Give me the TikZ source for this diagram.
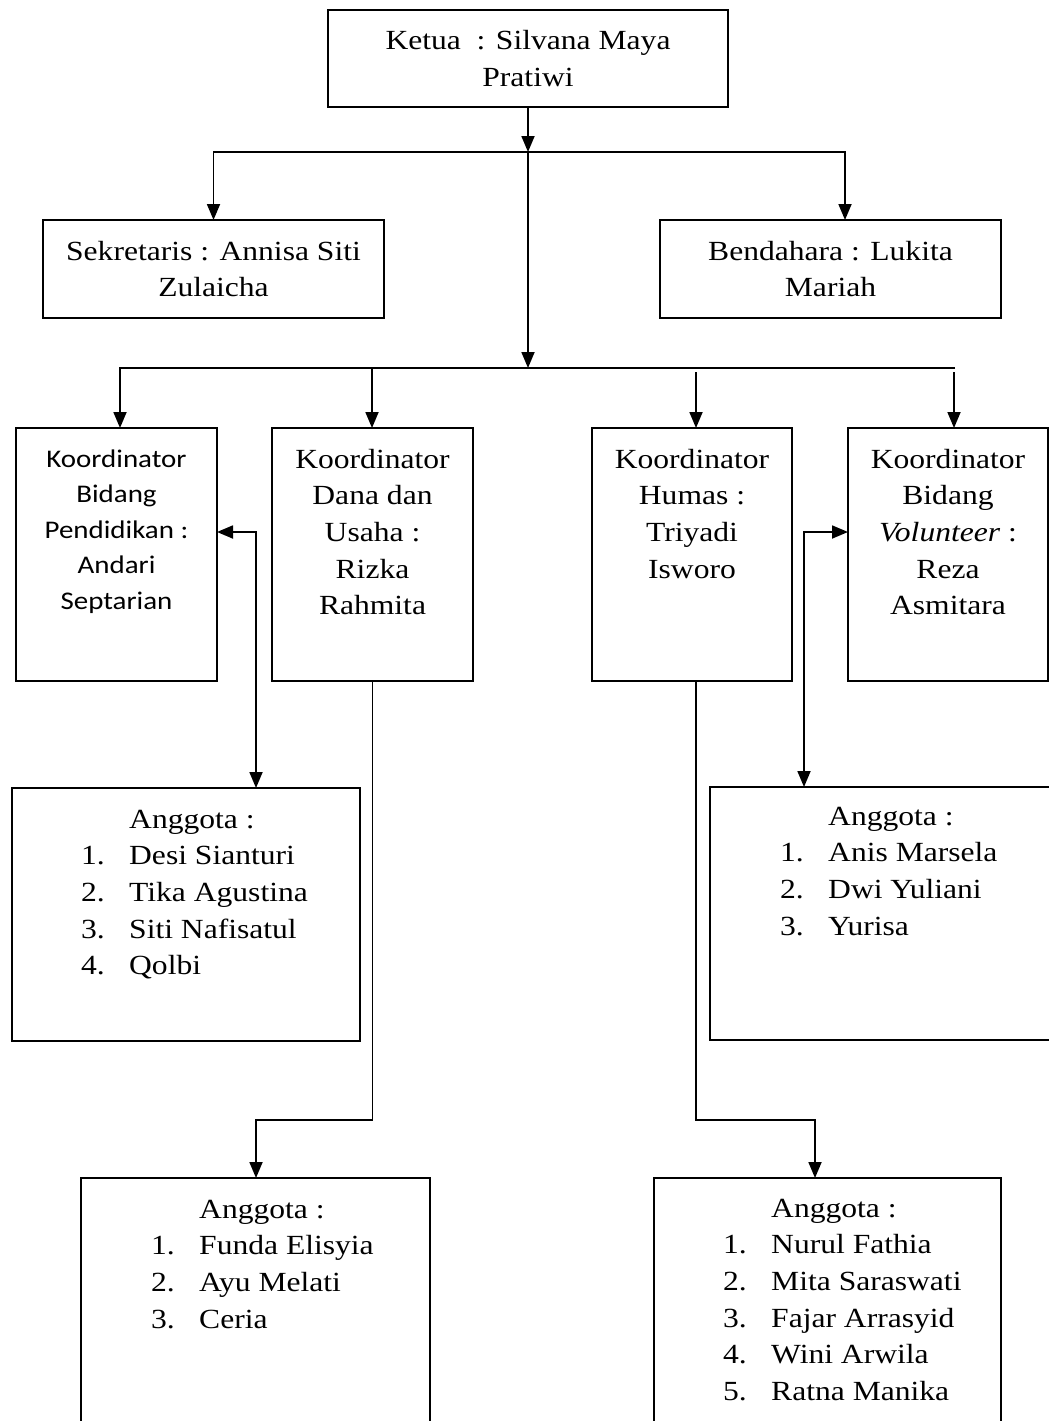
\documentclass[tikz,border=0pt]{standalone}
\usepackage{fontspec}
\setmainfont{Liberation Serif}[FakeStretch=1.14]
\newfontfamily\calibri{Carlito}[FakeStretch=1.14]
\usetikzlibrary{arrows.meta}
\usetikzlibrary{positioning}

\tikzset{
  kotak/.style 2 args={draw, line width=1.4pt, inner sep=0pt, outer sep=0pt,
    minimum width=#1, minimum height=#2},
  teks/.style={inner sep=0pt, font=\fontsize{27.7}{36.7}\selectfont},
  tekssans/.style={inner sep=0pt, font=\calibri\fontsize{25.4}{35.5}\selectfont},
  garis/.style={line width=1.8pt},
  panah/.style={garis, -{Triangle[length=16pt,width=13pt]}},
  duapanah/.style={garis, {Triangle[length=16pt,width=13pt]}-{Triangle[length=16pt,width=13pt]}},
}
\newcommand\baris[1]{\begin{tabular}[t]{@{}c@{}}#1\end{tabular}}
\newcommand\anggota[1]{\begin{tabular}[t]{@{}p{48pt}@{}l@{}} & Anggota :\\ #1\end{tabular}}

\begin{document}
\begin{tikzpicture}[x=1pt,y=-1pt]
  \fill[white] (0,0) rectangle (1049,1421);
  \useasboundingbox (0,0) rectangle (1049,1421);
  \clip (0,0) rectangle (1049,1421);

  % pengurus inti
  \node[kotak={400pt}{97pt}] (ketua) at (528,58.5) {};
  \node[kotak={341pt}{98pt}] (sek) at (213.5,269) {};
  \node[kotak={341pt}{98pt}] (ben) at (830.5,269) {};

  \node[teks, below=40pt of ketua.north, anchor=base] (tketua)
    {\baris{Ketua\ \ : Silvana Maya\\ Pratiwi}};
  \node[teks, below=40pt of sek.north, anchor=base] (tsek)
    {\baris{Sekretaris : Annisa Siti\\ Zulaicha}};
  \node[teks, below=40pt of ben.north, anchor=base] (tben)
    {\baris{Bendahara : Lukita\\ Mariah}};

  % koordinator
  \node[kotak={201pt}{253pt}] (pend) at (116.5,554.5) {};
  \node[kotak={201pt}{253pt}] (dana) at (372.5,554.5) {};
  \node[kotak={200pt}{253pt}] (humas) at (692,554.5) {};
  \node[kotak={200pt}{253pt}] (vol) at (948,554.5) {};

  \node[tekssans, below=39pt of pend.north, anchor=base] (tpend)
    {\baris{Koordinator\\ Bidang\\ Pendidikan :\\ Andari\\ Septarian}};
  \node[teks, below=40pt of dana.north, anchor=base] (tdana)
    {\baris{Koordinator\\ Dana dan\\ Usaha :\\ Rizka\\ Rahmita}};
  \node[teks, below=40pt of humas.north, anchor=base] (thumas)
    {\baris{Koordinator\\ Humas :\\ Triyadi\\ Isworo}};
  \node[teks, below=40pt of vol.north, anchor=base] (tvol)
    {\baris{Koordinator\\ Bidang\\ \textit{Volunteer} :\\ Reza\\ Asmitara}};

  % anggota
  \node[kotak={348pt}{253pt}] (agt1) at (186,914.5) {};
  \node[kotak={348pt}{253pt}] (agt2) at (884,913.5) {};
  \node[kotak={349pt}{253pt}] (agt3) at (255.5,1304.5) {};
  \node[kotak={347pt}{253pt}] (agt4) at (827.5,1304.5) {};

  \node[teks, below right=40pt and 69pt of agt1.north west, anchor=base west] (tagt1)
    {\anggota{1. & Desi Sianturi\\ 2. & Tika Agustina\\ 3. & Siti Nafisatul\\ 4. & Qolbi}};
  \node[teks, below right=38pt and 70pt of agt2.north west, anchor=base west] (tagt2)
    {\anggota{1. & Anis Marsela\\ 2. & Dwi Yuliani\\ 3. & Yurisa}};
  \node[teks, below right=40pt and 70pt of agt3.north west, anchor=base west] (tagt3)
    {\anggota{1. & Funda Elisyia\\ 2. & Ayu Melati\\ 3. & Ceria}};
  \node[teks, below right=39pt and 69pt of agt4.north west, anchor=base west] (tagt4)
    {\anggota{1. & Nurul Fathia\\ 2. & Mita Saraswati\\ 3. & Fajar Arrasyid\\ 4. & Wini Arwila\\ 5. & Ratna Manika}};

  % garis hubung
  \coordinate (bus1) at (528,152);
  \coordinate (bus2) at (528,368);
  \coordinate (ujung) at (955,368);
  \coordinate (turun1) at (120,368);
  \coordinate (turun2) at (372,368);
  \coordinate (turun3) at (696,372);
  \coordinate (turun4) at (954,372);
  \coordinate (sambung1) at (256,532);
  \coordinate (sambung2) at (804,532);
  \coordinate (belok1) at (256,1120);
  \coordinate (belok2) at (815,1120);

  \draw[panah] (ketua.south) -- (bus1);
  \draw[panah] (bus1) -| (sek.north);
  \draw[panah] (bus1) -| ([xshift=14.5pt]ben.north);
  \draw[panah] (bus1) -- (bus2);

  \draw[panah] (ujung) -| (turun1 |- pend.north);
  \draw[panah] (turun2) -- (turun2 |- dana.north);
  \draw[panah] (turun3) -- (turun3 |- humas.north);
  \draw[panah] (turun4) -- (turun4 |- vol.north);

  \draw[duapanah] (pend.east |- sambung1) -- (sambung1) -- (sambung1 |- agt1.north);
  \draw[duapanah] (vol.west |- sambung2) -- (sambung2) -- (sambung2 |- agt2.north);

  \draw[panah] (dana.south) |- (belok1) -- (belok1 |- agt3.north);
  \draw[panah] ([xshift=4pt]humas.south) |- (belok2) -- (belok2 |- agt4.north);

\end{tikzpicture}
\end{document}
